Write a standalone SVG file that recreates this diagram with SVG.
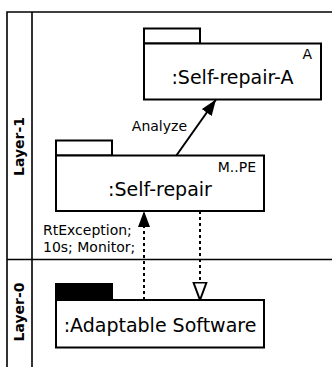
<svg xmlns="http://www.w3.org/2000/svg" width="332" height="367" viewBox="0 0 332 367">
  <style>
    .frame { fill: none; stroke: #000; stroke-width: 1.6; }
    .box { fill: #fff; stroke: #000; stroke-width: 2; }
    .tab { fill: #fff; stroke: #000; stroke-width: 2; }
    .tab-dark { fill: #000; stroke: #000; stroke-width: 2; }
    .name { font-family: "DejaVu Sans", sans-serif; font-size: 19px; fill: #000; }
    .small { font-family: "DejaVu Sans", sans-serif; font-size: 14px; fill: #000; }
    .layer { font-family: "DejaVu Sans", sans-serif; font-size: 14px; font-weight: bold; fill: #000; }
    .solid { fill: none; stroke: #000; stroke-width: 2; }
    .dotted { fill: none; stroke: #000; stroke-width: 2; stroke-dasharray: 3 3; }
  </style>
  <defs>
    <marker id="filled" viewBox="0 0 16 12" refX="16" refY="6" markerWidth="16" markerHeight="12" markerUnits="userSpaceOnUse" orient="auto">
      <path d="M0,0 L16,6 L0,12 Z" fill="#000"/>
    </marker>
    <marker id="open" viewBox="0 0 20 16" refX="18.5" refY="8" markerWidth="20" markerHeight="16" markerUnits="userSpaceOnUse" orient="auto">
      <path d="M1,1.5 L18.5,8 L1,14.5 Z" fill="#fff" stroke="#000" stroke-width="2"/>
    </marker>
  </defs>

  <!-- layer frame -->
  <g id="layers">
    <path class="frame" d="M7,367 V12 H332 M32,12 V367 M7,259.5 H332"/>
    <text class="layer" transform="translate(24,146.5) rotate(-90)" text-anchor="middle">Layer-1</text>
    <text class="layer" transform="translate(24,312) rotate(-90)" text-anchor="middle">Layer-0</text>
  </g>

  <!-- connectors -->
  <g id="connectors">
    <line class="solid" x1="176" y1="156" x2="216" y2="99.5" marker-end="url(#filled)"/>
    <text class="small" x="187" y="131" text-anchor="end">Analyze</text>
    <line class="dotted" x1="144" y1="300" x2="144" y2="211" marker-end="url(#filled)"/>
    <text class="small" x="43" y="235">RtException;</text>
    <text class="small" x="43" y="252">10s; Monitor;</text>
    <line class="dotted" x1="200" y1="211" x2="200" y2="300" marker-end="url(#open)"/>
  </g>

  <!-- nodes -->
  <g id="self-repair-a">
    <rect class="tab" x="144" y="28.5" width="56" height="15"/>
    <rect class="box" x="144" y="43.5" width="177" height="56"/>
    <text class="small" x="312" y="59" text-anchor="end">A</text>
    <text class="name" x="232.5" y="84" text-anchor="middle">:Self-repair-A</text>
  </g>

  <g id="self-repair">
    <rect class="tab" x="56" y="140.5" width="56" height="15"/>
    <rect class="box" x="56" y="155.5" width="208" height="55.5"/>
    <text class="small" x="256" y="172" text-anchor="end">M..PE</text>
    <text class="name" x="160" y="196" text-anchor="middle">:Self-repair</text>
  </g>

  <g id="adaptable-software">
    <rect class="tab-dark" x="56" y="284" width="56" height="16"/>
    <rect class="box" x="56" y="300" width="208" height="47.5"/>
    <text class="name" x="160" y="332" text-anchor="middle">:Adaptable Software</text>
  </g>
</svg>
